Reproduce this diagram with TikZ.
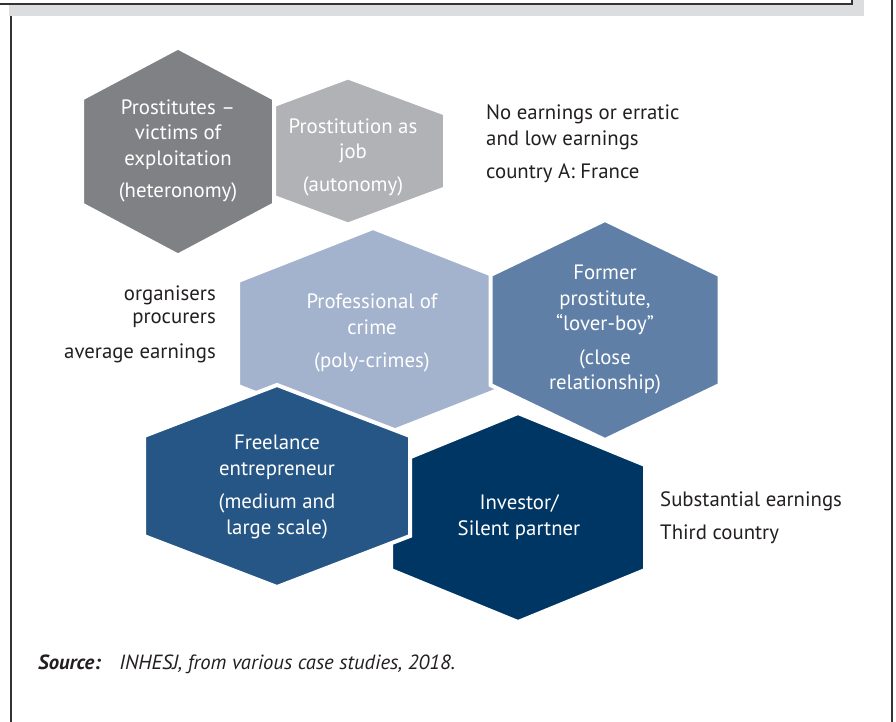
\documentclass[tikz,border=0pt]{standalone}
\usepackage{fontspec}
\setmainfont{PT Sans}
\definecolor{hexA}{HTML}{808184}
\definecolor{hexB}{HTML}{B1B2B5}
\definecolor{hexC}{HTML}{A3B3CD}
\definecolor{hexD}{HTML}{5F7FA7}
\definecolor{hexE}{HTML}{265686}
\definecolor{hexF}{HTML}{003664}
\definecolor{inkc}{HTML}{231F20}
\definecolor{shadowc}{HTML}{DCDDDF}
\definecolor{framec}{HTML}{333333}
\newcommand\hexshape[6]{%
  \filldraw[fill=#6, draw=white, line width=4pt]
    (#1,#2-#4) -- (#1+#3,#2-#5) -- (#1+#3,#2+#5) -- (#1,#2+#4)
    -- (#1-#3,#2+#5) -- (#1-#3,#2-#5) -- cycle;}
\tikzset{
  hextext/.style={text=white, align=center, inner sep=0pt,
    font=\fontsize{20.8}{25.5}\selectfont},
  sidetext/.style={text=inkc, inner sep=0pt,
    font=\fontsize{20.8}{25.5}\selectfont},
  frameline/.style={draw=framec, line width=2pt}
}
\begin{document}
\begin{tikzpicture}[x=1pt,y=-1pt]
\useasboundingbox (0,0) rectangle (896,722);
% frame
\fill[shadowc] (9,-5) rectangle (864,16);
\filldraw[fill=white, frameline] (-5,-10) rectangle (852,4.5);
\draw[frameline] (11,16) -- (11,730);
\draw[frameline] (892,-5) -- (892,730);
% hexagons (back to front)
\hexshape{348}{151}{97}{73.5}{37.5}{hexB}
\hexshape{178}{151.5}{96}{104}{53}{hexA}
\hexshape{373}{333.5}{135}{105.5}{52.5}{hexC}
\hexshape{605}{330}{114.5}{110}{55}{hexD}
\hexshape{518}{517.5}{127}{104.5}{52.5}{hexF}
\hexshape{277}{486}{133}{101}{50}{hexE}
% hexagon texts
\node[hextext] (t1) at (178,151) {Prostitutes –\\victims of\\exploitation\\[7pt](heteronomy)};
\node[hextext] (t2) at (353,157) {Prostitution as\\job\\[7pt](autonomy)};
\node[hextext] (t3) at (372,333) {Professional of\\crime\\[8pt](poly-crimes)};
\node[hextext] (t4) at (605,330) {Former\\prostitute,\\“lover-boy”\\[8pt](close\\relationship)};
\node[hextext] (t5) at (277,487) {Freelance\\entrepreneur\\[8pt](medium and\\large scale)};
\node[hextext] (t6) at (519,517) {Investor/\\Silent partner};
% side texts
\node[sidetext, anchor=west] (s1) at (486,114) {No earnings or erratic};
\node[sidetext, anchor=west] (s2) at (486,140) {and low earnings};
\node[sidetext, anchor=west] (s3) at (486,173) {country A: France};
\node[sidetext, anchor=east] (s4) at (216,295) {organisers};
\node[sidetext, anchor=east] (s5) at (216,320) {procurers};
\node[sidetext, anchor=east] (s6) at (216,353) {average earnings};
\node[sidetext, anchor=west] (s7) at (660,501) {Substantial earnings};
\node[sidetext, anchor=west] (s8) at (660,534) {Third country};
% source
\node[text=inkc, inner sep=0pt, anchor=west, font=\fontsize{20.5}{24}\selectfont] (src) at (38,664)
  {\scalebox{1.01}[1]{\textbf{\textit{Source:}}\hspace{18pt}\textit{INHESJ, from various case studies, 2018.}}};
\end{tikzpicture}
\end{document}
